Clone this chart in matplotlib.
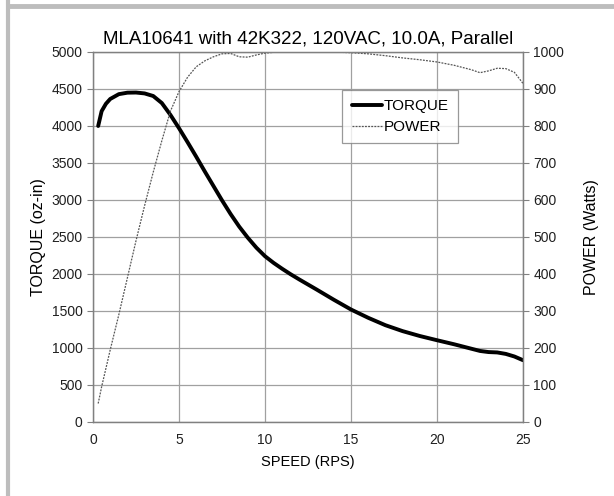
import matplotlib
matplotlib.use('Agg')
import matplotlib.pyplot as plt
from matplotlib.lines import Line2D

plt.rcParams['font.family'] = ['Liberation Sans', 'DejaVu Sans']

# speed (RPS)
speed = [0.3, 0.5, 0.75, 1, 1.5, 2, 2.5, 3, 3.5, 4, 4.5, 5, 5.5, 6, 6.5,
         7, 7.5, 8, 8.5, 9, 9.5, 10, 10.5, 11, 11.5, 12, 13, 14, 15, 16,
         17, 18, 19, 20, 21, 22, 22.5, 23, 23.5, 24, 24.5, 25]

# torque (oz-in)
torque = [4000, 4200, 4300, 4365, 4430, 4450, 4452, 4440, 4405, 4310,
          4150, 3970, 3780, 3585, 3385, 3190, 2995, 2810, 2640, 2490,
          2355, 2240, 2150, 2070, 1995, 1925, 1790, 1652, 1520, 1408,
          1308, 1228, 1162, 1105, 1050, 990, 960, 945, 940, 920, 885,
          835]

# power (Watts)
power = [50, 95, 145, 195, 290, 390, 490, 585, 675, 760,
         840, 893, 932, 960, 976, 987, 995, 996, 987, 986,
         992, 997, 999, 1000, 1000, 1000, 1000, 1000, 998, 995,
         990, 984, 979, 973, 964, 952, 944, 949, 956, 955, 945,
         915]

title = 'MLA10641 with 42K322, 120VAC, 10.0A, Parallel'

fig = plt.figure(figsize=(6.14, 4.96), dpi=100)
ax = fig.add_axes([0.1515, 0.1492, 0.7003, 0.746])
ax2 = ax.twinx()

grid_c = '#a0a0a0'
ax.set_xlim(0, 25)
ax.set_ylim(0, 5000)
ax2.set_ylim(0, 1000)
ax.set_xticks(range(0, 26, 5))
ax.set_yticks(range(0, 5001, 500))
ax2.set_yticks(range(0, 1001, 100))
ax.grid(True, color=grid_c, lw=0.9)
ax.set_axisbelow(True)

ln1, = ax.plot(speed, torque, color='black', lw=2.8, label='TORQUE',
               solid_capstyle='round', solid_joinstyle='round')
ln2, = ax2.plot(speed, power, color='#555555', lw=0.9, ls=(0, (1.5, 1)),
                label='POWER')

for a in (ax, ax2):
    for s in a.spines.values():
        s.set_color('#808080')
        s.set_linewidth(0.9)
    a.tick_params(labelsize=10, colors='#202020', length=4,
                  color='#808080', direction='out')
ax.tick_params(axis='x', length=0, pad=8)

ax.set_title(title, fontsize=13.5, pad=6)
ax.set_xlabel('SPEED (RPS)', fontsize=10.5, labelpad=6)
ax.set_ylabel('TORQUE (oz-in)', fontsize=11.5, labelpad=4)
ax2.set_ylabel('POWER (Watts)', fontsize=11.5, labelpad=14)

leg = ax.legend(handles=[ln1, ln2], loc='upper left',
                bbox_to_anchor=(0.58, 0.897), fontsize=11,
                frameon=True, fancybox=False, handlelength=2.0,
                handletextpad=0.1, borderpad=0.6, labelspacing=0.45,
                borderaxespad=0)
leg.get_frame().set_edgecolor('#808080')
leg.get_frame().set_linewidth(0.9)

# window frame edges
fig.add_artist(Line2D([8 / 614, 1], [1 - 6 / 496, 1 - 6 / 496],
                      transform=fig.transFigure, color='#bdbdbd', lw=3.5))
fig.add_artist(Line2D([7.5 / 614, 7.5 / 614], [0, 1],
                      transform=fig.transFigure, color='#bdbdbd', lw=3))

fig.savefig('out.png', dpi=100)
